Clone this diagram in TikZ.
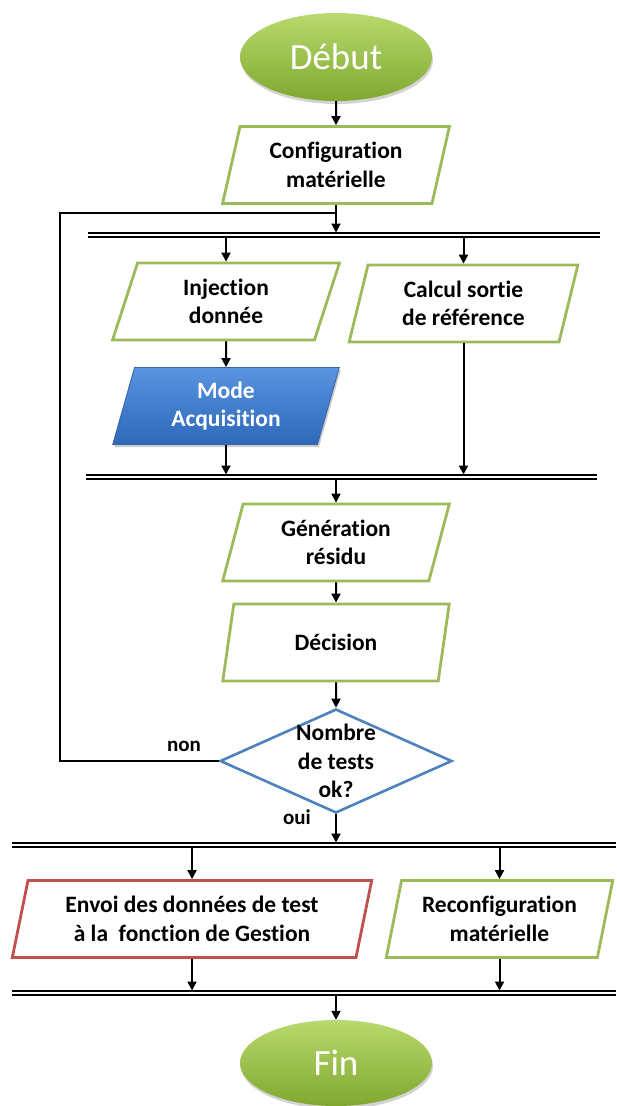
\documentclass[tikz,border=0pt]{standalone}
\usepackage{fontspec}
\setmainfont{Carlito}[Ligatures=NoCommon]
\usetikzlibrary{shapes.geometric,arrows.meta,shadows}
\definecolor{pgreen}{RGB}{155,187,89}
\definecolor{pred}{RGB}{192,80,77}
\definecolor{pblue}{RGB}{79,129,189}
\definecolor{eltop}{RGB}{184,218,110}
\definecolor{elbot}{RGB}{128,168,48}
\definecolor{mtop}{RGB}{88,148,224}
\definecolor{mbot}{RGB}{46,104,186}
\definecolor{mborder}{RGB}{60,100,160}
\begin{document}
\begin{tikzpicture}[x=1pt,y=-1pt,
 txt/.style={font=\fontsize{23.5}{28.5}\selectfont\bfseries, align=center},
 para/.style={txt, trapezium, trapezium left angle=75, trapezium right angle=105, trapezium stretches=true, minimum width=227pt, minimum height=77pt, inner sep=0pt, line width=2.8pt, draw=pgreen, fill=white},
 modebox/.style={top color=mtop, bottom color=mbot, draw=mborder, line width=0.8pt, text=white, drop shadow={opacity=0.4, shadow xshift=1.5pt, shadow yshift=-2.5pt}},
 term/.style={ellipse, minimum width=192pt, minimum height=88pt, top color=eltop, bottom color=elbot, draw=none, text=white, font=\fontsize{37}{40}\selectfont, drop shadow={opacity=0.35, shadow xshift=1pt, shadow yshift=-3pt}},
 arr/.style={line width=2pt, -{Triangle[length=9pt,width=9pt]}},
 bar/.style={double, double distance=2.4pt, line width=1.5pt},
 lbl/.style={font=\fontsize{21}{24}\selectfont\bfseries}]
\useasboundingbox (0,0) rectangle (616,1106);
% bars
\coordinate (b1l) at (88,235); \coordinate (b1r) at (600,235);
\coordinate (b1t) at (0,232.5); \coordinate (b1b) at (0,237.5);
\coordinate (b2l) at (86,477); \coordinate (b2r) at (597,477);
\coordinate (b2t) at (0,474.5); \coordinate (b2b) at (0,479.5);
\coordinate (b3l) at (12,845); \coordinate (b3r) at (616,845);
\coordinate (b3t) at (0,842.5); \coordinate (b3b) at (0,847.5);
\coordinate (b4l) at (12,993); \coordinate (b4r) at (616,993);
\coordinate (b4t) at (0,990.5); \coordinate (b4b) at (0,995.5);
\coordinate (fbtop) at (60,213);
\draw[bar] (b1l) -- (b1r);
\draw[bar] (b2l) -- (b2r);
\draw[bar] (b3l) -- (b3r);
\draw[bar] (b4l) -- (b4r);
% nodes
\node[term] (debut) at (336,57) {Début};
\node[para] (config) at (336,165) {Configuration\\matérielle};
\node[para] (inj) at (226,301.5) {Injection\\donnée};
\node[para, minimum width=229pt] (calc) at (463.5,303.5) {Calcul sortie\\de référence};
\node[para, modebox] (mode) at (226,406) {Mode\\Acquisition};
\node[para] (gen) at (336,542.5) {Génération\\résidu};
\node[para] (dec) at (336,642.5) {Décision};
\node[diamond, draw=pblue, line width=2.6pt, minimum width=232pt, minimum height=104pt, inner sep=0pt] (q) at (336,761) {};
\node[txt] (qt) at (336,761) {Nombre\\de tests\\ok?};
\node[lbl] (non) at (184,746) {non};
\node[lbl] (oui) at (297,817) {oui};
\node[para, draw=pred, minimum width=360pt] (envoi) at (192,919) {Envoi des données de test\\à la\ \ fonction de Gestion};
\node[para] (reconf) at (499.5,919) {Reconfiguration\\matérielle};
\node[term, minimum height=86pt] (fin) at (336,1063) {Fin};
% connectors
\draw[arr] (debut.south) -- (config.north);
\draw[arr] (config.south) -- (config.south |- b1t);
\draw[line width=2pt] (q.west) -- (q.west -| fbtop) -- (fbtop) -- (fbtop -| config.south);
\draw[arr] (inj.north |- b1b) -- (inj.north);
\draw[arr] (calc.north |- b1b) -- (calc.north);
\draw[arr] (inj.south) -- (mode.north);
\draw[arr] (mode.south) -- (mode.south |- b2t);
\draw[arr] (calc.south) -- (calc.south |- b2t);
\draw[arr] (gen.north |- b2b) -- (gen.north);
\draw[arr] (gen.south) -- (dec.north);
\draw[arr] (dec.south) -- (q.north);
\draw[arr] (q.south) -- (q.south |- b3t);
\draw[arr] (envoi.north |- b3b) -- (envoi.north);
\draw[arr] (reconf.north |- b3b) -- (reconf.north);
\draw[arr] (envoi.south) -- (envoi.south |- b4t);
\draw[arr] (reconf.south) -- (reconf.south |- b4t);
\draw[arr] (fin.north |- b4b) -- (fin.north);
\end{tikzpicture}
\end{document}
